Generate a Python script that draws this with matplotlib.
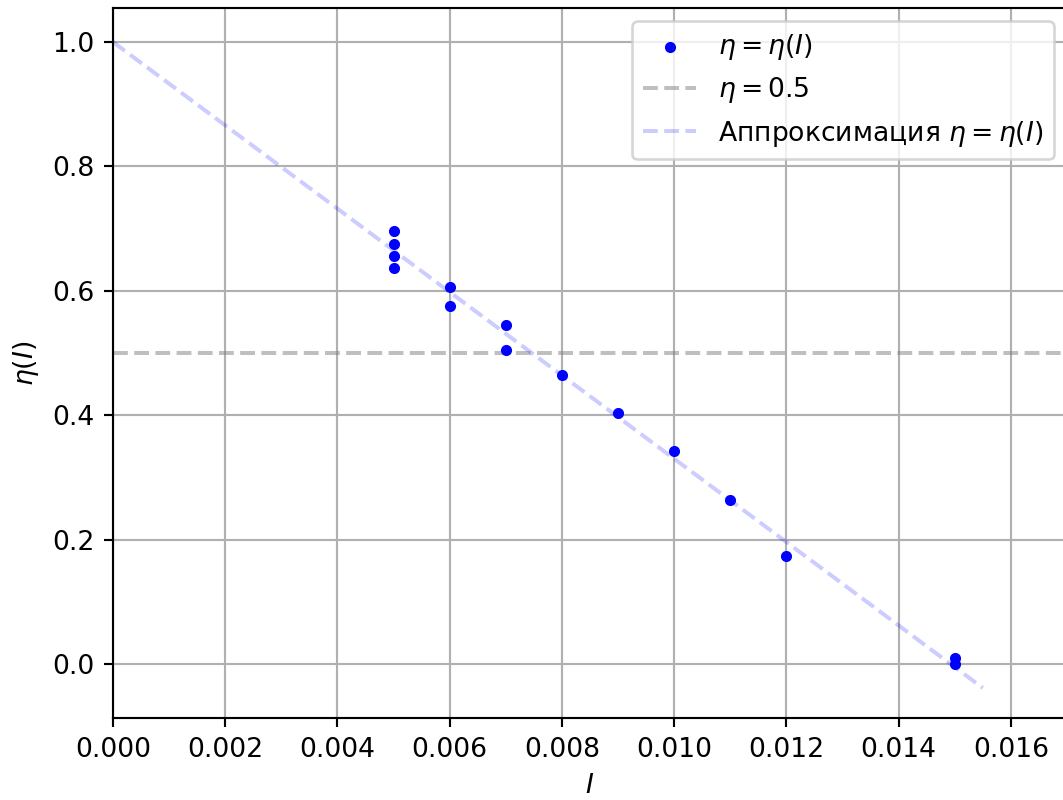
import matplotlib
matplotlib.use("Agg")
import matplotlib.pyplot as plt
import numpy as np

# measured points
I_vals = [0.005, 0.005, 0.005, 0.005, 0.006, 0.006, 0.007, 0.007,
          0.008, 0.009, 0.010, 0.011, 0.012, 0.015, 0.015]
eta_vals = [0.696, 0.676, 0.656, 0.636, 0.606, 0.576, 0.545, 0.505,
            0.465, 0.404, 0.343, 0.263, 0.173, 0.010, 0.000]

# linear approximation eta = a + b*I
fit_a = 1.0
fit_b = -67.0
fit_I = [0.0, 0.0155]
eta_half = 0.5

DPI = 192
fig = plt.figure(figsize=(1063 / DPI, 800 / DPI), dpi=DPI)
ax = fig.add_axes([113 / 1063, 82 / 800, 954 / 1063, 710 / 800])

ax.scatter(I_vals, eta_vals, s=10, color="blue", zorder=3, label=r"$\eta = \eta(I)$")
ax.axhline(eta_half, color="gray", alpha=0.5, ls="--", label=r"$\eta = 0.5$")
xf = np.array(fit_I)
ax.plot(xf, fit_a + fit_b * xf, color="blue", alpha=0.2, ls="--",
        label=r"Аппроксимация $\eta = \eta(I)$")

ax.set_xlim(0, 0.017)
ax.set_ylim(-0.0868, 1.0547)
ax.set_xticks(np.arange(0, 0.0161, 0.002))
ax.set_xlabel(r"$I$")
ax.set_ylabel(r"$\eta(I)$")
ax.grid(True)
ax.legend(loc="upper right")

fig.savefig("out.png", dpi=DPI)
